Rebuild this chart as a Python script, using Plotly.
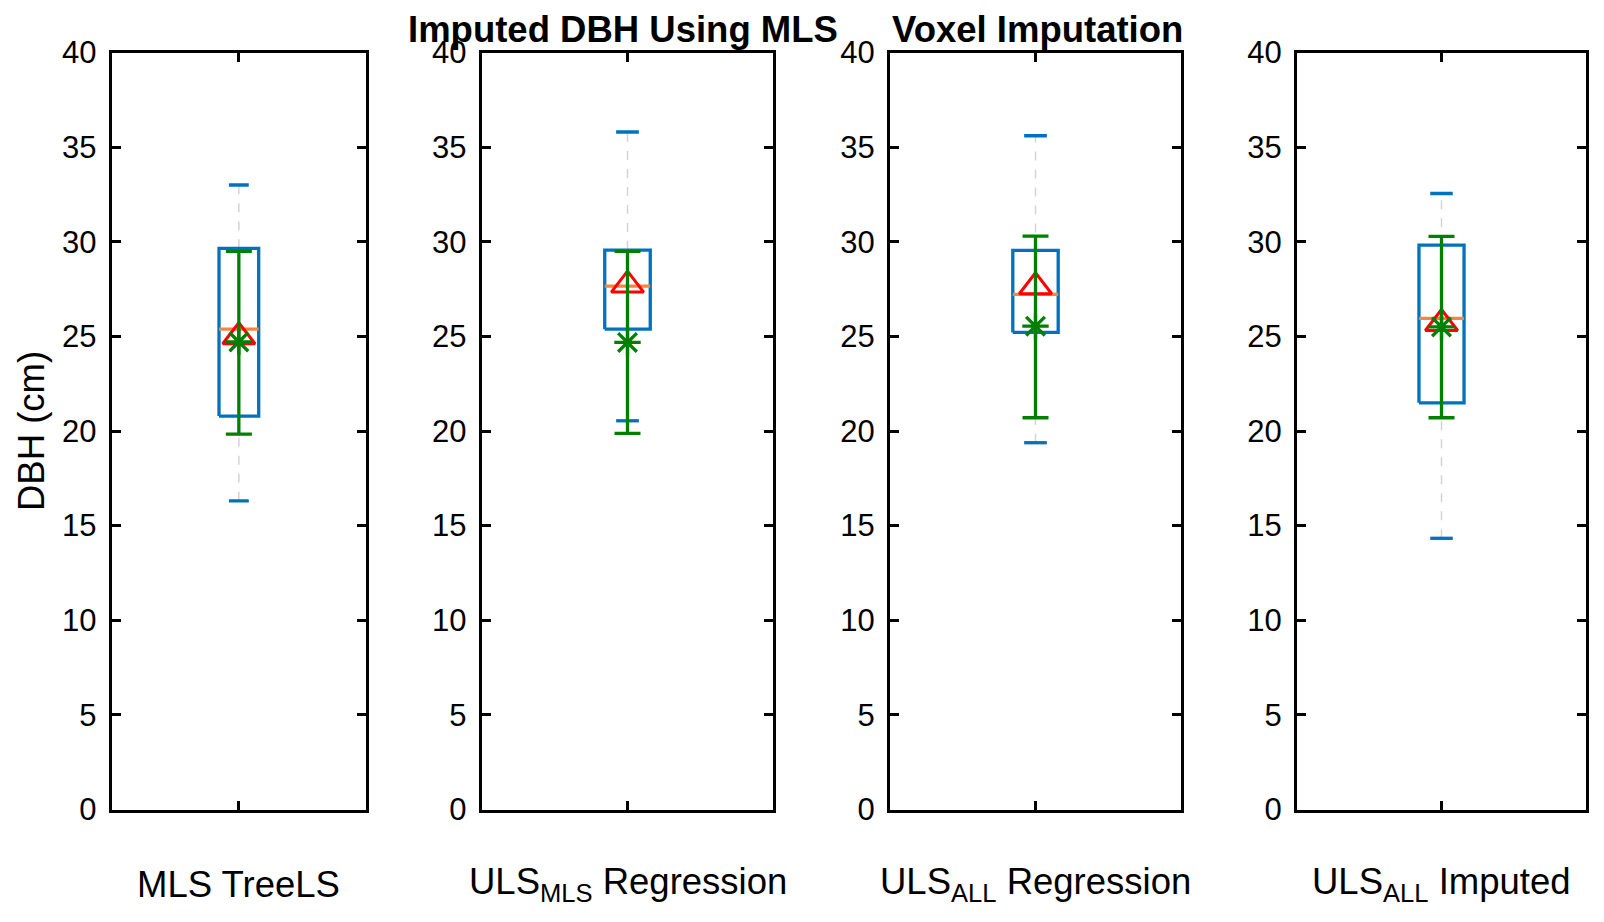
import plotly.graph_objects as go

# box statistics (DBH, cm)
labels = ["MLS TreeLS", "ULS<sub>MLS</sub> Regression", "ULS<sub>ALL</sub> Regression", "ULS<sub>ALL</sub> Imputed"]
upper_adj = [33.0, 35.8, 35.6, 32.55]
q3 = [29.65, 29.56, 29.54, 29.82]
median = [25.38, 27.65, 27.22, 25.95]
q1 = [20.79, 25.38, 25.21, 21.49]
lower_adj = [16.31, 20.54, 19.38, 14.33]
# red triangle (mean) and green star with error bar
tri_val = [24.98, 27.71, 27.62, 25.68]
star_val = [24.71, 24.68, 25.54, 25.50]
err_top = [29.49, 29.49, 30.30, 30.28]
err_bot = [19.84, 19.87, 20.70, 20.70]
yticks = [0, 5, 10, 15, 20, 25, 30, 35, 40]

W, H = 1604, 922
OFF = 8  # page body margin in the browser
# axes edges in pixels (as in the reference)
x_edges = [(111.7, 366.0), (481.6, 773.4), (890.0, 1181.0), (1297.0, 1586.0)]
y_top, y_bot = 52.5, 809.5


def px(v):
    return (v - OFF) / W


def py(v):
    return 1 - (v - OFF) / H


BLUE = "#0072BD"
ORANGE = "#F5853F"
GREEN = "#008000"
RED = "#FF0000"
FONT = "Liberation Sans, Arial, Helvetica, sans-serif"

bw = 0.078   # half box width (data units)
cw = 0.039   # half cap width

fig = go.Figure()

for i in range(4):
    xa = "x" if i == 0 else "x%d" % (i + 1)
    ya = "y" if i == 0 else "y%d" % (i + 1)
    # dashed whiskers
    fig.add_trace(go.Scatter(
        x=[1, 1, None, 1, 1],
        y=[lower_adj[i], q1[i], None, q3[i], upper_adj[i]],
        mode="lines", line=dict(color="#d4d4d4", width=1.5, dash="dash"),
        xaxis=xa, yaxis=ya, showlegend=False, hoverinfo="skip"))
    # whisker caps
    fig.add_trace(go.Scatter(
        x=[1 - cw, 1 + cw, None, 1 - cw, 1 + cw],
        y=[lower_adj[i], lower_adj[i], None, upper_adj[i], upper_adj[i]],
        mode="lines", line=dict(color=BLUE, width=3.3),
        xaxis=xa, yaxis=ya, showlegend=False, hoverinfo="skip"))
    # box
    fig.add_trace(go.Scatter(
        x=[1 - bw, 1 + bw, 1 + bw, 1 - bw, 1 - bw],
        y=[q1[i], q1[i], q3[i], q3[i], q1[i]],
        mode="lines", line=dict(color=BLUE, width=3.3),
        xaxis=xa, yaxis=ya, showlegend=False, hoverinfo="skip"))
    # median
    fig.add_trace(go.Scatter(
        x=[1 - bw, 1 + bw], y=[median[i], median[i]],
        mode="lines", line=dict(color=ORANGE, width=3.3),
        xaxis=xa, yaxis=ya, showlegend=False, hoverinfo="skip"))
    # triangle
    fig.add_trace(go.Scatter(
        x=[1], y=[tri_val[i]], mode="markers",
        marker=dict(symbol="triangle-up-open", size=28, color=RED, line=dict(color=RED, width=3)),
        xaxis=xa, yaxis=ya, showlegend=False))
    # star with error bar
    fig.add_trace(go.Scatter(
        x=[1], y=[star_val[i]], mode="markers",
        marker=dict(symbol="asterisk-open", size=22, color=GREEN, line=dict(color=GREEN, width=3.3)),
        error_y=dict(type="data", symmetric=False,
                     array=[err_top[i] - star_val[i]],
                     arrayminus=[star_val[i] - err_bot[i]],
                     color=GREEN, thickness=3.3, width=13),
        xaxis=xa, yaxis=ya, showlegend=False))

layout = dict(
    width=W, height=H,
    margin=dict(l=0, r=0, t=0, b=0, autoexpand=False),
    paper_bgcolor="white", plot_bgcolor="white",
    font=dict(family=FONT, color="black"),
    showlegend=False,
)
annotations = []
for i in range(4):
    xk = "xaxis" if i == 0 else "xaxis%d" % (i + 1)
    yk = "yaxis" if i == 0 else "yaxis%d" % (i + 1)
    xa = "x" if i == 0 else "x%d" % (i + 1)
    ya = "y" if i == 0 else "y%d" % (i + 1)
    x0, x1 = x_edges[i]
    layout[xk] = dict(
        domain=[px(x0), px(x1)], anchor=ya, range=[0.5, 1.5], automargin=False,
        tickvals=[1], ticktext=[""], ticks="inside", ticklen=9, tickwidth=2.5,
        tickcolor="black", showline=True, linecolor="black", linewidth=3,
        mirror="ticks", showgrid=False, zeroline=False, fixedrange=True)
    layout[yk] = dict(
        domain=[py(y_bot), py(y_top)], anchor=xa, range=[0, 40], automargin=False,
        tickvals=yticks, ticks="inside", ticklen=9, tickwidth=2.5,
        tickcolor="black", showline=True, linecolor="black", linewidth=3,
        mirror="ticks", showgrid=False, zeroline=False,
        tickfont=dict(size=31, family=FONT, color="black"),
        ticklabelstandoff=6, fixedrange=True)
    annotations.append(dict(
        text=labels[i], xref=xa, yref="paper", x=1, y=py(884),
        xanchor="center", yanchor="middle", showarrow=False,
        font=dict(size=36.5, family=FONT, color="black")))

annotations.append(dict(
    text="DBH (cm)", xref="paper", yref="paper", x=px(31), y=py(431),
    xanchor="center", yanchor="middle", textangle=-90, showarrow=False,
    font=dict(size=36.5, family=FONT, color="black")))
annotations.append(dict(
    text="<b>Imputed DBH Using MLS</b>", xref="paper", yref="paper",
    x=px(840), y=py(29), xanchor="right", yanchor="middle", showarrow=False,
    font=dict(size=36.5, family=FONT, color="black")))
annotations.append(dict(
    text="<b>Voxel Imputation</b>", xref="paper", yref="paper",
    x=px(890), y=py(29), xanchor="left", yanchor="middle", showarrow=False,
    font=dict(size=36.5, family=FONT, color="black")))
layout["annotations"] = annotations

fig.update_layout(**layout)
fig.write_html("out.html")
